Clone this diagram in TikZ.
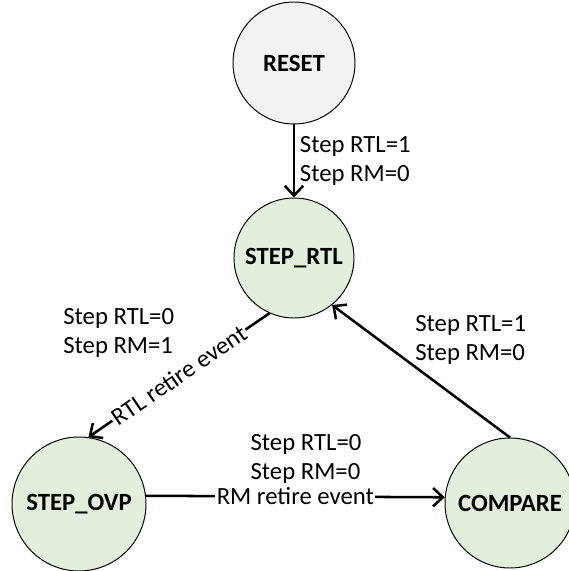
\documentclass[tikz,border=0pt]{standalone}
\usepackage{fontspec}
\setmainfont{Carlito}
\usepackage{xcolor}
\usetikzlibrary{arrows.meta}
\definecolor{stgreen}{HTML}{E2EFDA}
\definecolor{stgray}{HTML}{F2F2F2}
\newcommand{\stfont}{\fontsize{17.6}{21}\selectfont}
\tikzset{st/.style={circle,draw,line width=0.7pt,fill=stgreen,inner sep=0pt,font=\stfont\bfseries}}
\tikzset{tr/.style={line width=1.8pt,-{Straight Barb[length=7pt,width=13pt]}}}
\tikzset{lbl/.style={align=left,inner sep=0pt,anchor=west}}

\begin{document}
\begin{tikzpicture}[font=\stfont]
    \useasboundingbox (0,0) rectangle (14.225,14.275);
    \node[st,fill=stgray,minimum size=3.05cm] (reset) at (7.35,12.7) {RESET};
    \node[st,minimum size=3.0cm] (rtl) at (7.35,7.825) {STEP\_RTL};
    \node[st,minimum size=3.35cm] (ovp) at (1.975,1.675) {STEP\_OVP};
    \node[st,minimum size=3.25cm] (cmp) at (12.75,1.7) {COMPARE};

    \node[lbl] (l1) at (1.575,5.95) {Step RTL=0\\Step RM=1};
    \node[lbl] (l2) at (10.375,5.775) {Step RTL=1\\Step RM=0};
    \node[align=left] (l3) at (7.65,2.8) {Step RTL=0\\Step RM=0};

    \draw [tr] (reset) to []node[right,align=left]{Step RTL=1\\Step RM=0} (rtl);
    \draw [tr] (rtl.246) to []node[sloped,fill=white,inner sep=1pt]{RTL retire event} (ovp.82);
    \draw [tr] (ovp.7) to []node[fill=white,inner sep=1pt]{RM retire event} (cmp.175);
    \draw [tr] (cmp.north) to []node[]{} (rtl.-51);
\end{tikzpicture}
\end{document}
